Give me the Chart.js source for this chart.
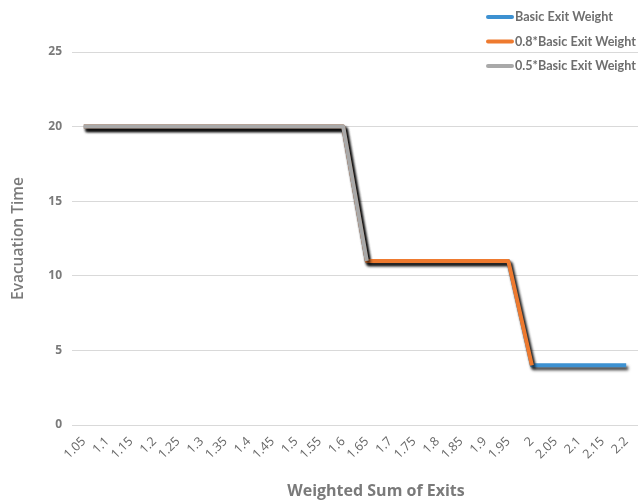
<!DOCTYPE html>
<html>
<head>
<meta charset="utf-8">
<script src="https://cdn.jsdelivr.net/npm/chart.js@4"></script>
<style>
  html, body { margin: 0; padding: 0; background: #ffffff; }
  #wrap { width: 638px; height: 501px; position: relative; }
</style>
</head>
<body>
<div id="wrap"><canvas id="chart"></canvas></div>
<script>
// Weighted sum of exits (category axis)
const weightedSums = ['1.05','1.1','1.15','1.2','1.25','1.3','1.35','1.4','1.45','1.5','1.55','1.6',
                      '1.65','1.7','1.75','1.8','1.85','1.9','1.95','2','2.05','2.1','2.15','2.2'];

// Evacuation time for each exit weighting
const basicWeight =  [20,20,20,20,20,20,20,20,20,20,20,20, 11,11,11,11,11,11,11, 4,4,4,4,4];
const weight08 =     [20,20,20,20,20,20,20,20,20,20,20,20, 11,11,11,11,11,11,11, 4,null,null,null,null];
const weight05 =     [20,20,20,20,20,20,20,20,20,20,20,20, 11,null,null,null,null,null,null,null,null,null,null,null];

const seriesNames = ['Basic Exit Weight', '0.8*Basic Exit Weight', '0.5*Basic Exit Weight'];
const yTicks = [0, 5, 10, 15, 20, 25];
const xTitle = 'Weighted Sum of Exits';
const yTitle = 'Evacuation Time';

const FONT = '"Open Sans", "Noto Sans", sans-serif';
const LEGEND_FONT = 'Lato, "Noto Sans", sans-serif';

// Soft drop shadow under each line
const lineShadow = {
  id: 'lineShadow',
  beforeDatasetDraw(chart) {
    const ctx = chart.ctx;
    ctx.save();
    ctx.shadowColor = 'rgba(0,0,0,0.75)';
    ctx.shadowBlur = 3;
    ctx.shadowOffsetX = 2;
    ctx.shadowOffsetY = 3;
  },
  afterDatasetDraw(chart) {
    chart.ctx.restore();
  }
};

// Vertical legend in the top-right corner and the horizontal axis title
const chartDecor = {
  id: 'chartDecor',
  afterDraw(chart) {
    const ctx = chart.ctx;
    ctx.save();
    ctx.font = 'bold 12.6px ' + LEGEND_FONT;
    ctx.textBaseline = 'middle';
    ctx.textAlign = 'left';
    const entries = chart.data.datasets.slice().sort((a, b) => b.order - a.order);
    entries.forEach((ds, i) => {
      const y = 17 + i * 24.5;
      ctx.strokeStyle = ds.borderColor;
      ctx.lineWidth = 4;
      ctx.lineCap = 'round';
      ctx.beginPath();
      ctx.moveTo(488, y);
      ctx.lineTo(512, y);
      ctx.stroke();
      ctx.fillStyle = '#6e6e6e';
      ctx.fillText(ds.label, 515, y);
    });

    ctx.font = 'bold 16px ' + FONT;
    ctx.textAlign = 'center';
    ctx.fillStyle = '#7a7a7a';
    ctx.fillText(xTitle, 376, 491);
    ctx.restore();
  }
};

const ds = (label, data, color, order) => ({
  label, data, order,
  borderColor: color,
  backgroundColor: color,
  borderWidth: 4,
  pointRadius: 0,
  pointHoverRadius: 0,
  tension: 0,
  spanGaps: false,
  borderJoinStyle: 'round',
  borderCapStyle: 'butt'
});

new Chart(document.getElementById('chart'), {
  type: 'line',
  data: {
    labels: weightedSums,
    datasets: [
      ds(seriesNames[0], basicWeight, '#3d91d1', 3),
      ds(seriesNames[1], weight08, '#ee7a2f', 2),
      ds(seriesNames[2], weight05, '#a9a9a9', 1)
    ]
  },
  options: {
    responsive: true,
    maintainAspectRatio: false,
    animation: false,
    layout: { padding: { top: 52, right: 0, left: 0, bottom: 0 } },
    plugins: {
      legend: { display: false },
      tooltip: { enabled: false }
    },
    scales: {
      x: {
        offset: true,
        grid: { display: false, drawTicks: false },
        border: { display: false },
        ticks: {
          autoSkip: false,
          minRotation: 45,
          maxRotation: 45,
          padding: 9,
          color: '#666666',
          font: { family: FONT, size: 12.5 }
        },
        afterFit(scale) {
          scale.height = 76;
          scale.paddingLeft = 0;
          scale.paddingRight = 0;
        }
      },
      y: {
        min: 0,
        max: 25,
        afterBuildTicks(scale) { scale.ticks = yTicks.map(v => ({ value: v })); },
        grid: { color: '#d9d9d9', lineWidth: 1, drawTicks: false },
        border: { display: false },
        ticks: {
          padding: 10,
          color: '#7a7a7a',
          font: { family: FONT, size: 12, weight: 'bold' }
        },
        title: {
          display: true,
          text: yTitle,
          color: '#7a7a7a',
          font: { family: FONT, size: 15.5, weight: 600 },
          padding: { top: 9, bottom: 0 }
        },
        afterFit(scale) {
          scale.width = 72;
          scale.paddingTop = 0;
          scale.paddingBottom = 0;
        }
      }
    }
  },
  plugins: [lineShadow, chartDecor]
});
</script>
</body>
</html>
